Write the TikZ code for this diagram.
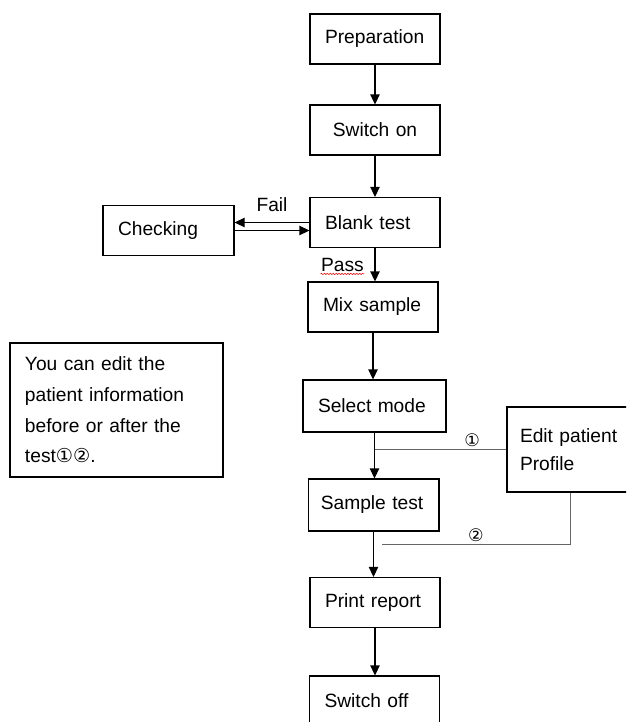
\documentclass[tikz,border=0pt]{standalone}
\usepackage{fontspec}
\setmainfont{Liberation Sans}
\newfontfamily\circfont{DejaVu Sans}
\usetikzlibrary{positioning,arrows.meta,decorations.pathmorphing}

\begin{document}
\begin{tikzpicture}[
        x=0.75pt, y=-0.75pt,
        font=\fontsize{14.4}{23}\selectfont,
        block/.style={rectangle, draw, line width=0.8pt, text width=75pt, align=left, inner xsep=11.25pt, minimum height=37.5pt},
        arrow/.style={-{Triangle[length=7.5pt,width=7pt]}, line width=0.8pt},
        link/.style={draw=black!60, line width=0.6pt},
        tag/.style={inner sep=2pt},
        numtag/.style={font=\circfont\fontsize{13}{15}\selectfont, inner sep=1.5pt}
    ]
    \useasboundingbox (0,0) rectangle (626,722);
    \clip (0,0) rectangle (626,722);

    \node[block] (prep) at (375,39) {Preparation};
    \node[block, align=center] (on) at (375,130) {Switch on};
    \node[block] (blank) at (375,222.5) {Blank test};
    \node[block, text width=75.75pt] (check) at (168.5,230.5) {Checking};
    \node[block] (mix) at (373,307) {Mix sample};
    \node[block, text width=84.75pt, minimum height=39pt] (select) at (374.5,406) {Select mode};
    \node[block, text width=79pt, inner xsep=9.6pt, minimum height=39pt] (sample) at (373.5,505) {Sample test};
    \node[block] (print) at (375,602.5) {Print report};
    \node[block] (off) at (374.5,701) {Switch off};
    \node[block, inner xsep=9.75pt, minimum height=63.75pt, font=\fontsize{14.4}{21}\selectfont] (edit) at (570,449.5) {Edit patient\\Profile};
    \node[block, text width=137.25pt, minimum height=100.5pt] (note) at (116.5,410) {You can edit the\\patient information\\before or after the\\test{\circfont ①②}.};

    % main flow
    \draw[arrow] (prep) -- (on);
    \draw[arrow] (on) -- (blank);
    \draw[arrow] (blank.south) -- node[tag, midway, left, xshift=-6pt] (pass) {Pass} (blank.south |- mix.north);
    \draw[arrow] (mix.south) -- (mix.south |- select.north);
    \draw[arrow] (select.south) -- (select.south |- sample.north);
    \draw[arrow] (sample.south) -- (sample.south |- print.north);
    \draw[arrow] (print.south) -- (print.south |- off.north);

\draw[red, line width=0.4pt, decorate, decoration={snake, amplitude=0.5pt, segment length=2.2pt}] ([xshift=2pt,yshift=-2pt]pass.base west) -- ([xshift=-2pt,yshift=-2pt]pass.base east);

\draw[arrow] (blank.west) -- node[tag, above, yshift=6pt] {Fail} (blank.west -| check.east);
\draw[arrow] (check.east) -- (check.east -| blank.west);

    % patient profile
    \coordinate (j1) at (select.south |- edit.west);
    \coordinate (j2) at (382,544);
    \draw[link] (edit.west) -- node[numtag, above, pos=0.26] {①} (j1);
    \draw[link] (edit.south) |- node[numtag, above, pos=0.75] {②} (j2);

    \end{tikzpicture}
\end{document}
